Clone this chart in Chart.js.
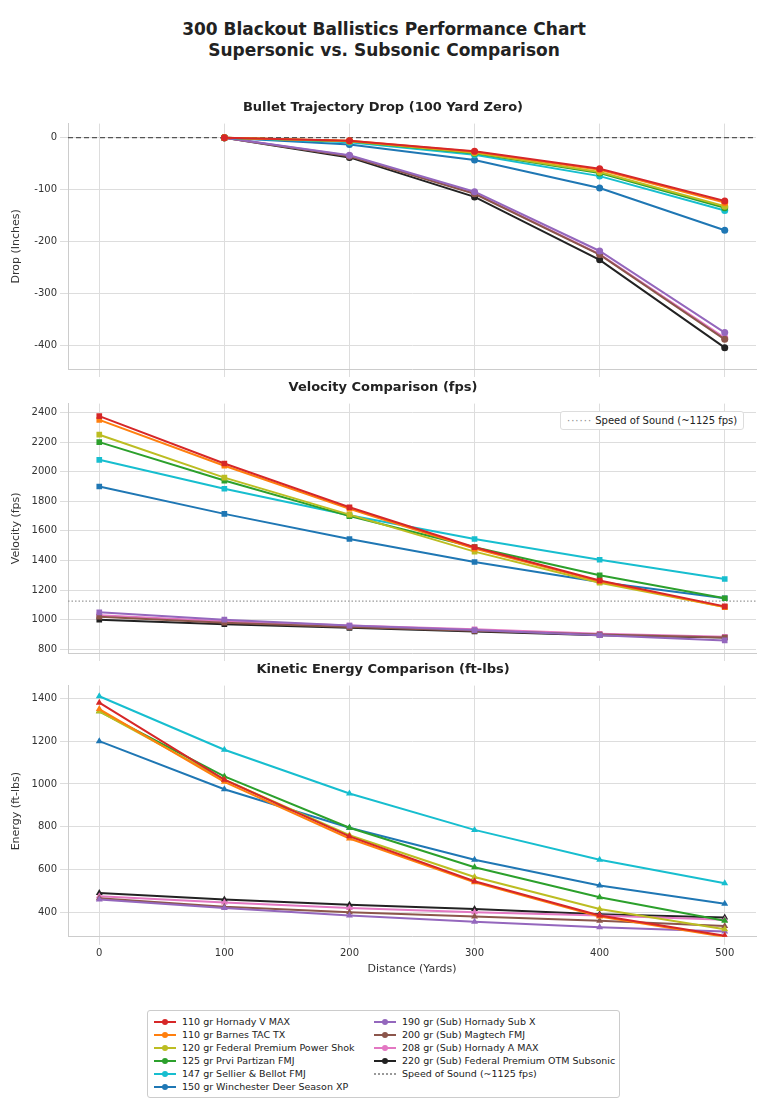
<!DOCTYPE html>
<html>
<head>
<meta charset="utf-8">
<script src="https://cdn.jsdelivr.net/npm/chart.js@4.4.0/dist/chart.umd.min.js"></script>
<style>
  body { margin: 0; background: #fff; font-family: "DejaVu Sans", sans-serif; color: #222; }
  #page { position: relative; width: 768px; height: 1117px; }
  .title { position: absolute; left: 0; width: 768px; text-align: center; font-weight: bold; font-size: 17px; line-height: 21px; top: 19px; }
  .box { position: absolute; left: 6px; width: 754px; }
  #sosLegend { position: absolute; left: 560px; top: 411px; border: 1px solid #ddd; border-radius: 3px; background: #fff; font-size: 10px; padding: 3px 6px; }
  #legend { position: absolute; left: 147px; top: 1010px; width: 473px; height: 88px; border: 1px solid #ccc; border-radius: 3px; font-size: 9.5px; display: grid; grid-template-columns: 220px 250px; grid-auto-flow: column; grid-template-rows: repeat(6, 13px); padding: 4px 0 0 6px; box-sizing: border-box; }
  .item { display: flex; align-items: center; white-space: nowrap; }
  .sw { position: relative; width: 22px; height: 10px; margin-right: 6px; }
  .sw .ln { position: absolute; left: 0; right: 0; top: 4px; border-top: 2px solid; }
  .sw .dot { position: absolute; left: 8px; top: 2px; width: 6px; height: 6px; border-radius: 50%; }
</style>
</head>
<body>
<div id="page">
  <div class="title">300 Blackout Ballistics Performance Chart<br>Supersonic vs. Subsonic Comparison</div>
  <div class="box" style="top:100px;height:278px"><canvas id="drop"></canvas></div>
  <div class="box" style="top:380px;height:282px"><canvas id="vel"></canvas></div>
  <div class="box" style="top:662px;height:314px"><canvas id="energy"></canvas></div>
  <div id="sosLegend"><span style="color:#888;letter-spacing:1px">······</span> Speed of Sound (~1125 fps)</div>
  <div id="legend"></div>
</div>
<script>
var distances = [0, 100, 200, 300, 400, 500];
var loads = ['110 gr Hornady V MAX', '110 gr Barnes TAC TX', '120 gr Federal Premium Power Shok',
  '125 gr Prvi Partizan FMJ', '147 gr Sellier & Bellot FMJ', '150 gr Winchester Deer Season XP',
  '190 gr (Sub) Hornady Sub X', '200 gr (Sub) Magtech FMJ', '208 gr (Sub) Hornady A MAX',
  '220 gr (Sub) Federal Premium OTM Subsonic'];
var colors = ['#d62728', '#ff7f0e', '#bcbd22', '#2ca02c', '#17becf', '#1f77b4',
  '#9467bd', '#8c564b', '#e377c2', '#222222'];

var dropTicks = [0, -100, -200, -300, -400];
var velocityTicks = [800, 1000, 1200, 1400, 1600, 1800, 2000, 2200, 2400];
var energyTicks = [400, 600, 800, 1000, 1200, 1400];

var dropValues = [
  [null, 0, -6, -26, -60, -122],
  [null, 0, -6, -27, -62, -125],
  [null, 0, -7, -29, -66, -132],
  [null, 0, -7, -30, -68, -135],
  [null, 0, -9, -33, -74, -140],
  [null, 0, -13, -43, -97, -178],
  [null, 0, -34, -104, -218, -375],
  [null, 0, -36, -108, -225, -388],
  [null, 0, -35, -107, -224, -385],
  [null, 0, -38, -114, -235, -404]
];
var velocityValues = [
  [2375, 2055, 1760, 1490, 1265, 1090],
  [2350, 2040, 1750, 1480, 1260, 1085],
  [2250, 1960, 1710, 1460, 1250, 1085],
  [2200, 1940, 1700, 1490, 1300, 1145],
  [2080, 1885, 1705, 1545, 1405, 1275],
  [1900, 1715, 1545, 1390, 1255, 1145],
  [1050, 1000, 960, 930, 895, 860],
  [1020, 980, 950, 925, 900, 880],
  [1030, 990, 960, 935, 905, 885],
  [1000, 970, 945, 920, 895, 880]
];
var energyValues = [
  [1380, 1020, 755, 545, 385, 290],
  [1350, 1010, 745, 540, 380, 285],
  [1340, 1020, 760, 565, 415, 320],
  [1340, 1035, 795, 610, 470, 360],
  [1410, 1160, 955, 785, 645, 535],
  [1200, 975, 795, 645, 525, 440],
  [460, 420, 385, 355, 330, 310],
  [465, 425, 400, 380, 360, 335],
  [475, 445, 420, 400, 385, 365],
  [490, 460, 435, 415, 390, 375]
];
var speedOfSound = 1125;

Chart.defaults.font.family = '"DejaVu Sans", sans-serif';
Chart.defaults.color = '#333';
Chart.defaults.animation = false;

function series(values, marker, size) {
  return values.map(function(vals, i) {
    return {
      label: loads[i],
      data: distances.map(function(d, j) { return { x: d, y: vals[j] }; }),
      borderColor: colors[i], backgroundColor: colors[i],
      borderWidth: 2, pointStyle: marker, pointRadius: size, pointBorderWidth: 0
    };
  });
}

function fixedTicks(list) {
  return function(ax) { ax.ticks = list.map(function(v) { return { value: v }; }); };
}

function makeChart(id, title, yTitle, datasets, yMin, yMax, yTicks, showX) {
  return new Chart(document.getElementById(id), {
    type: 'line',
    data: { datasets: datasets },
    options: {
      maintainAspectRatio: false, responsive: true,
      plugins: {
        legend: { display: false },
        title: { display: true, text: title, font: { size: 13, weight: 'bold' }, color: '#222', padding: { top: 0, bottom: 8 } }
      },
      scales: {
        x: {
          type: 'linear', min: -25, max: 525,
          afterBuildTicks: fixedTicks(distances),
          grid: { color: '#ddd' }, border: { color: '#ccc' },
          ticks: { display: showX, font: { size: 10 } },
          title: { display: showX, text: 'Distance (Yards)', font: { size: 11 }, padding: 0 }
        },
        y: {
          min: yMin, max: yMax,
          afterBuildTicks: fixedTicks(yTicks),
          afterFit: function(ax) { ax.width = 62; },
          title: { display: true, text: yTitle, font: { size: 11 } },
          grid: { color: '#ddd' }, border: { color: '#ccc' },
          ticks: { font: { size: 10 }, callback: function(v) { return String(v); } }
        }
      }
    }
  });
}

var dropSets = series(dropValues, 'circle', 3.5);
dropSets.push({
  label: 'Zero', data: [{ x: -25, y: 0 }, { x: 525, y: 0 }],
  borderColor: '#555', borderWidth: 1.2, borderDash: [5, 3], pointRadius: 0
});
makeChart('drop', 'Bullet Trajectory Drop (100 Yard Zero)', 'Drop (Inches)', dropSets, -445, 27, dropTicks, false);

var velSets = series(velocityValues, 'rect', 4);
velSets.push({
  label: 'Speed of Sound (~1125 fps)', data: [{ x: -25, y: speedOfSound }, { x: 525, y: speedOfSound }],
  borderColor: '#999', borderWidth: 1.2, borderDash: [1.5, 2], pointRadius: 0
});
makeChart('vel', 'Velocity Comparison (fps)', 'Velocity (fps)', velSets, 775, 2460, velocityTicks, false);

makeChart('energy', 'Kinetic Energy Comparison (ft-lbs)', 'Energy (ft-lbs)', series(energyValues, 'triangle', 4),
  285, 1460, energyTicks, true);

var legend = document.getElementById('legend');
loads.forEach(function(name, i) {
  legend.insertAdjacentHTML('beforeend', '<div class="item"><span class="sw"><span class="ln" style="border-color:' + colors[i] +
    '"></span><span class="dot" style="background:' + colors[i] + '"></span></span>' + name + '</div>');
});
legend.insertAdjacentHTML('beforeend', '<div class="item"><span class="sw"><span class="ln" style="border-top:2px dotted #999"></span></span>Speed of Sound (~1125 fps)</div>');
</script>
</body>
</html>
